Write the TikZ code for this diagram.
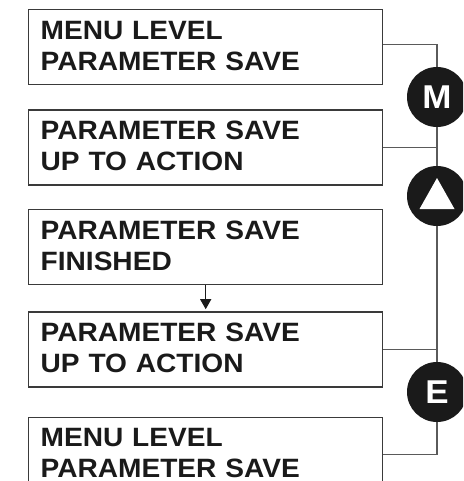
\documentclass[tikz,border=0pt]{standalone}
\usepackage{fontspec}
\usepackage{tikz}
\usetikzlibrary{arrows.meta, positioning, backgrounds}
\newfontfamily\panelfont[FakeStretch=1.06]{Liberation Sans}
\definecolor{panelgray}{RGB}{58,58,58}
\definecolor{linkgray}{RGB}{90,90,90}
\definecolor{keyblack}{RGB}{26,26,26}
\tikzset{
  panel/.style={
    rectangle, draw=panelgray, line width=1.4pt, minimum width=354pt,
    minimum height=75pt, text width=330pt, align=left, text depth=34pt,
    inner xsep=11pt, text=keyblack,
    font=\panelfont\bfseries\fontsize{26.5}{31}\selectfont
  },
  key/.style={
    circle, fill=keyblack, minimum size=60pt, inner sep=0pt, text=white,
    font=\panelfont\bfseries\fontsize{33}{33}\selectfont
  },
  link/.style={line width=1.3pt, color=linkgray},
  arrowdown/.style={-{Triangle[length=10pt,width=11pt]}, line width=1.3pt,
    color=keyblack, shorten >=2pt}
}
\begin{document}
\begin{tikzpicture}[x=1pt, y=1pt, node distance=24pt]
  \useasboundingbox (0,0) rectangle (463,-481);
  \clip (0,0) rectangle (463,-481);

  \node[panel, anchor=north west] at (28,-9) (b1) {MENU LEVEL\\PARAMETER SAVE};
  \node[panel, below=24pt of b1] (b2) {PARAMETER SAVE\\UP TO ACTION};
  \node[panel, below=23pt of b2] (b3) {PARAMETER SAVE\\FINISHED};
  \node[panel, below=26pt of b3] (b4) {PARAMETER SAVE\\UP TO ACTION};
  \node[panel, below=29pt of b4] (b5) {MENU LEVEL\\PARAMETER SAVE};

  \node[key] at (437,-97)  (keyM)  {M};
  \node[key] at (437,-196) (keyUp) {};
  \node[key] at (437,-392) (keyE)  {E};
  \fill[white] (keyUp.center) ++(0,18) -- ++(17.5,-31) -- ++(-35,0) -- cycle;

  \draw[arrowdown] (b3.south) -- (b4.north);

  % keys on the right
  \begin{scope}[on background layer]
    \draw[link] ([yshift=3pt]b1.east) -| (keyM.north);
    \draw[link] (keyM.south) |- (b2.east);
    \draw[link] (b2.east) -| (keyUp.north);
    \draw[link] (keyUp.south) |- (b4.east);
    \draw[link] (b4.east) -| (keyE.north);
    \draw[link] (keyE.south) |- (b5.east);
  \end{scope}
\end{tikzpicture}
\end{document}
